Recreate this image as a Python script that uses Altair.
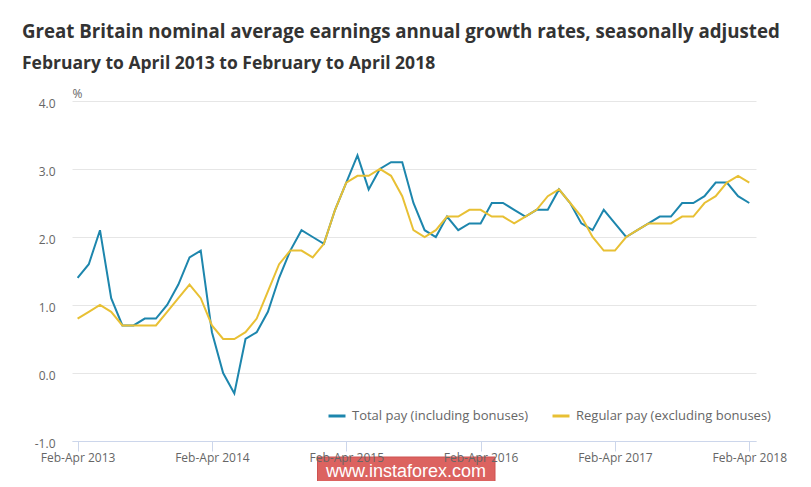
import altair as alt
import pandas as pd

periods = [f"Feb-Apr {y}" for y in range(2013, 2019)]

total_pay = [1.4, 1.6, 2.1, 1.1, 0.7, 0.7, 0.8, 0.8, 1.0, 1.3, 1.7, 1.8,
             0.6, 0.0, -0.3, 0.5, 0.6, 0.9, 1.4, 1.8, 2.1, 2.0, 1.9, 2.4,
             2.8, 3.2, 2.7, 3.0, 3.1, 3.1, 2.5, 2.1, 2.0, 2.3, 2.1, 2.2,
             2.2, 2.5, 2.5, 2.4, 2.3, 2.4, 2.4, 2.7, 2.5, 2.2, 2.1, 2.4,
             2.2, 2.0, 2.1, 2.2, 2.3, 2.3, 2.5, 2.5, 2.6, 2.8, 2.8, 2.6,
             2.5]
regular_pay = [0.8, 0.9, 1.0, 0.9, 0.7, 0.7, 0.7, 0.7, 0.9, 1.1, 1.3, 1.1,
               0.7, 0.5, 0.5, 0.6, 0.8, 1.2, 1.6, 1.8, 1.8, 1.7, 1.9, 2.4,
               2.8, 2.9, 2.9, 3.0, 2.9, 2.6, 2.1, 2.0, 2.1, 2.3, 2.3, 2.4,
               2.4, 2.3, 2.3, 2.2, 2.3, 2.4, 2.6, 2.7, 2.5, 2.3, 2.0, 1.8,
               1.8, 2.0, 2.1, 2.2, 2.2, 2.2, 2.3, 2.3, 2.5, 2.6, 2.8, 2.9,
               2.8]
series_names = ["Total pay (including bonuses)", "Regular pay (excluding bonuses)"]
series_colors = ["#1d86ad", "#e8c034"]

rows = []
for i, v in enumerate(total_pay):
    rows.append({"month": i, "series": series_names[0], "value": v})
for i, v in enumerate(regular_pay):
    rows.append({"month": i, "series": series_names[1], "value": v})
df = pd.DataFrame(rows)

FONT = "Open Sans"

lines = alt.Chart(df).mark_line(strokeWidth=2).encode(
    x=alt.X("month:Q",
            scale=alt.Scale(domain=[-0.5, 60.6], nice=False, zero=False),
            axis=alt.Axis(values=[0, 12, 24, 36, 48, 60],
                          labelExpr="'Feb-Apr ' + (2013 + datum.value / 12)",
                          title=None, grid=False, tickSize=10,
                          tickColor="#ccd6eb", domainColor="#ccd6eb",
                          labelFontSize=12, labelColor="#666666",
                          labelPadding=1, labelFont=FONT, zindex=1)),
    y=alt.Y("value:Q",
            scale=alt.Scale(domain=[-1, 4], nice=False, zero=False),
            axis=alt.Axis(values=[-1, 0, 1, 2, 3, 4],
                          labelExpr="datum.value < 0 ? '-' + format(-datum.value, '.1f') : format(datum.value, '.1f')",
                          grid=True, gridColor="#e6e6e6", domain=False,
                          ticks=False, labelPadding=17, labelOffset=2,
                          labelFontSize=12, labelColor="#666666", labelFont=FONT,
                          title="%", titleAngle=0, titleX=0, titleY=-4,
                          titleAlign="left", titleBaseline="alphabetic",
                          titleFontWeight="normal", titleFontSize=12,
                          titleColor="#666666", titleFont=FONT)),
    color=alt.Color("series:N",
                    scale=alt.Scale(domain=series_names, range=series_colors),
                    legend=alt.Legend(title=None, orient="none", legendX=255,
                                      legendY=305, direction="horizontal",
                                      symbolType="stroke", symbolSize=289,
                                      symbolStrokeWidth=3, labelFontSize=13,
                                      labelColor="#666666", labelFont=FONT,
                                      labelOffset=5, columnPadding=17,
                                      labelLimit=400, padding=0)),
    order="month:Q",
)

wm_data = alt.Data(values=[{"label": "www.instaforex.com"}])
wm_box = alt.Chart(wm_data).mark_rect(color="#d9534f", opacity=0.9,
                                      stroke="#c9403e", strokeWidth=1).encode(
    x=alt.value(245.5), x2=alt.value(423), y=alt.value(356), y2=alt.value(384)
)
wm_text = alt.Chart(wm_data).mark_text(font="Liberation Sans", fontSize=18,
                                       color="white", baseline="middle",
                                       align="center").encode(
    text="label:N", x=alt.value(334), y=alt.value(371)
)

chart = alt.layer(lines, wm_box, wm_text).properties(
    width=684, height=340,
    autosize=alt.AutoSizeParams(type="none"),
    padding={"left": 64, "top": 93, "right": 40, "bottom": 40},
    title=alt.Title(
        text="Great Britain nominal average earnings annual growth rates, seasonally adjusted",
        subtitle="February to April 2013 to February to April 2018",
        anchor="start", frame="group", dx=-50, offset=15, subtitlePadding=13,
        font=FONT, subtitleFont=FONT, fontSize=18.7, subtitleFontSize=17.5,
        fontWeight="bold", subtitleFontWeight="bold",
        color="#333333", subtitleColor="#333333"),
).configure_view(stroke=None)

chart.save("out.html", embed_options={"renderer": "svg", "actions": False})
